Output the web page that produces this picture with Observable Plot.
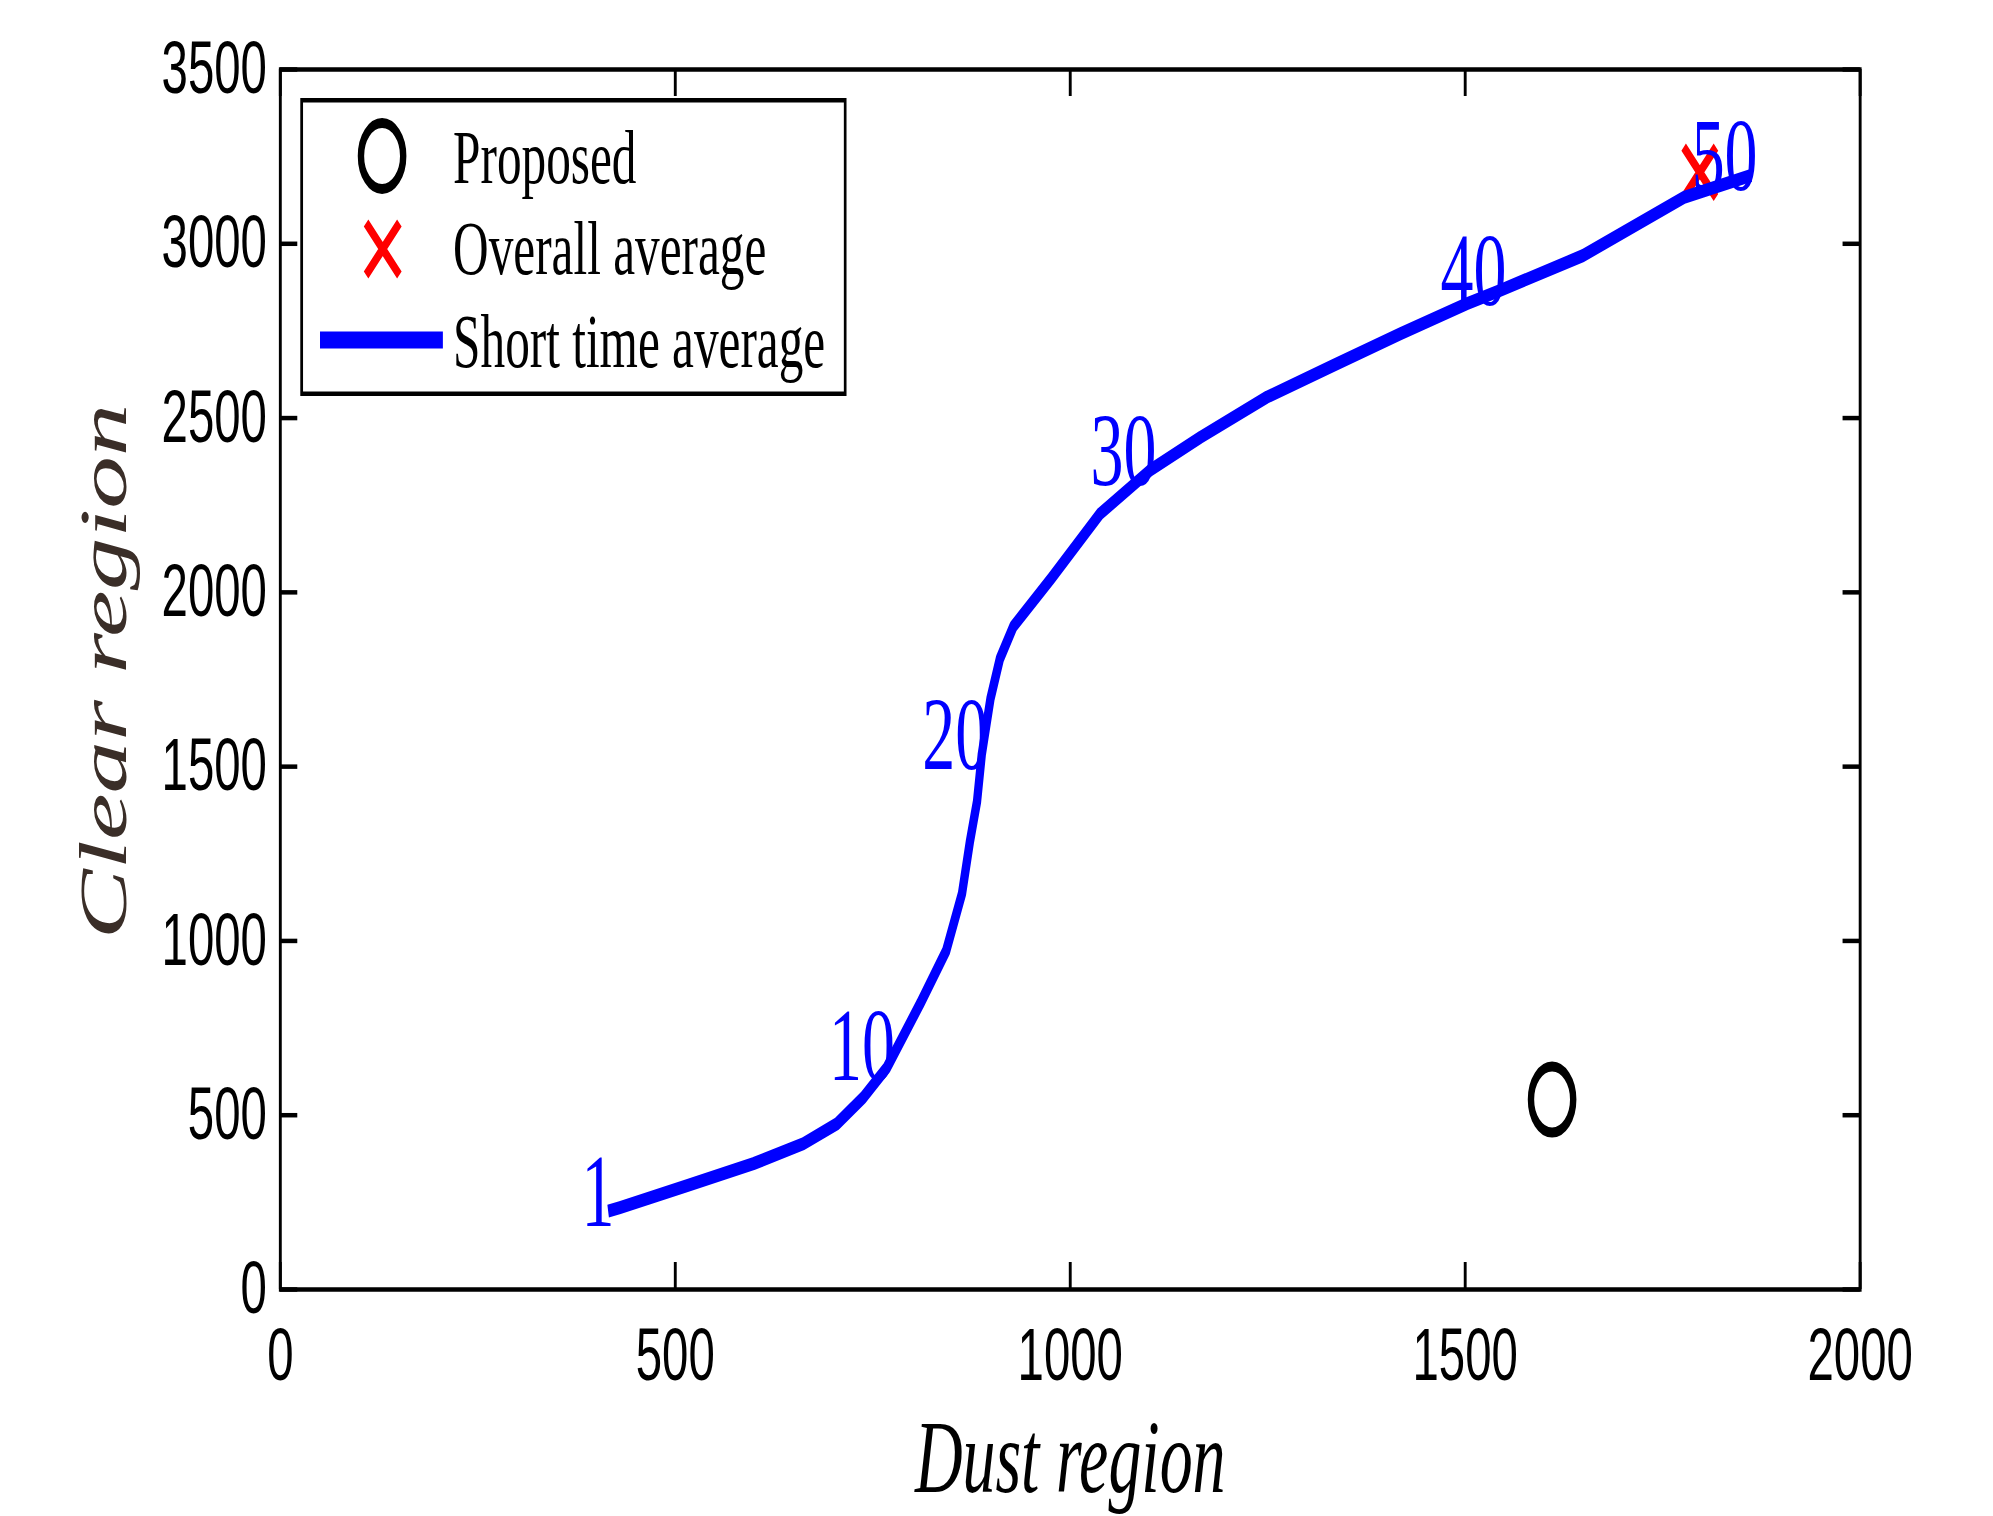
<!DOCTYPE html>
<html>
<head>
<meta charset="utf-8">
<script src="https://cdn.jsdelivr.net/npm/d3@7"></script>
<script src="https://cdn.jsdelivr.net/npm/@observablehq/plot@0.6"></script>
<style>
  html, body { margin: 0; padding: 0; background: #fff; overflow: hidden; }
  #wrap { position: relative; width: 3114px; height: 1516px; transform: scaleX(0.64); transform-origin: 0 0; }
  #legend { position: absolute; left: 469px; top: 98px; }
</style>
</head>
<body>
<div id="wrap"></div>
<script>
// ---- data ----
const dust  = [415, 430, 515, 599, 662, 705, 738, 768, 810, 843, 863, 873, 882, 888, 899, 911, 928, 976, 1038, 1101, 1165, 1249, 1333, 1418, 1502, 1544, 1649, 1777, 1862];
const clear = [225, 235, 298, 361, 418, 476, 551, 637, 820, 972, 1136, 1285, 1400, 1535, 1695, 1810, 1902, 2040, 2226, 2350, 2445, 2560, 2651, 2742, 2828, 2866, 2966, 3133, 3196];

const labelText  = ["1", "10", "20", "30", "40", "50"];
const labelDust  = [415, 770, 888, 1101, 1544, 1862];
const labelClear = [225, 645, 1535, 2350, 2866, 3196];

const proposedDust  = [1610];
const proposedClear = [545];
const overallDust   = [1797];
const overallClear  = [3205];

const xTicks = [0, 500, 1000, 1500, 2000];
const yTicks = [0, 500, 1000, 1500, 2000, 2500, 3000, 3500];
const xLabel = ["Dust region"];
const yLabel = ["Clear region"];
const legendLabels = ["Proposed", "Overall average", "Short time average"];

// ---- tables built from the arrays ----
const curve = dust.map((d, i) => ({x: d, y: clear[i]}));
const labels = labelText.map((t, i) => ({t, x: labelDust[i], y: labelClear[i]}));
const proposed = proposedDust.map((d, i) => ({x: d, y: proposedClear[i]}));
const overall = overallDust.map((d, i) => ({x: d, y: overallClear[i]}));

const W = 3114, H = 1516;
const mL = 437.5, mR = 208, mT = 69, mB = 227;
const fH = H - mT - mB, fW = W - mL - mR, tick = 27;
const serif = "'Liberation Serif', 'Times New Roman', serif";
const sans = "'Liberation Sans', Arial, sans-serif";
const fmt = d => String(d);

const chart = Plot.plot({
  width: W, height: H,
  marginLeft: mL, marginRight: mR, marginTop: mT, marginBottom: mB,
  style: {fontFamily: sans, fontSize: "74px", color: "black", background: "white", overflow: "visible"},
  x: {domain: [0, 2000], ticks: xTicks, tickFormat: fmt, tickSize: 0, tickPadding: 38, label: null},
  y: {domain: [0, 3500], ticks: yTicks, tickFormat: fmt, tickSize: 0, tickPadding: 21, label: null},
  marks: [
    Plot.tickX(xTicks, {x: d => d, insetTop: fH - tick, stroke: "black", strokeWidth: 4.5}),
    Plot.tickX(xTicks, {x: d => d, insetBottom: fH - tick, stroke: "black", strokeWidth: 4.5}),
    Plot.tickY(yTicks, {y: d => d, insetRight: fW - tick, stroke: "black", strokeWidth: 4.5}),
    Plot.tickY(yTicks, {y: d => d, insetLeft: fW - tick, stroke: "black", strokeWidth: 4.5}),
    Plot.dot(proposed, {x: "x", y: "y", r: 33, stroke: "black", strokeWidth: 10, fill: "none"}),
    Plot.dot(overall, {x: "x", y: "y", symbol: "times", r: 23, stroke: "red", strokeWidth: 10}),
    Plot.line(curve, {x: "x", y: "y", stroke: "blue", strokeWidth: 13, strokeLinejoin: "round", strokeLinecap: "butt"}),
    Plot.text(labels, {x: "x", y: "y", text: "t", textAnchor: "end", lineAnchor: "middle", dx: 10, dy: -18,
      fill: "blue", fontFamily: serif, fontSize: 103}),
    Plot.text(xLabel, {text: d => d, frameAnchor: "bottom", textAnchor: "middle", dy: 170, lineAnchor: "middle",
      fontFamily: serif, fontStyle: "italic", fontSize: 103, fill: "black"}),
    Plot.text(yLabel, {text: d => d, frameAnchor: "left", textAnchor: "middle", dx: -275, dy: -8, rotate: -90, lineAnchor: "middle",
      fontFamily: serif, fontStyle: "italic", fontSize: 105, fill: "#3a2e28"}),
    Plot.frame({stroke: "black", strokeWidth: 4.5})
  ]
});

const wrap = document.getElementById("wrap");
wrap.appendChild(chart);

// ---- legend (inside the axes, top-left) ----
const ns = "http://www.w3.org/2000/svg";
const lg = document.createElementNS(ns, "svg");
lg.setAttribute("id", "legend");
lg.setAttribute("width", 854);
lg.setAttribute("height", 298);
const baselines = [85, 176, 269];
lg.innerHTML = `
  <rect x="2.25" y="2.25" width="849.5" height="293.5" fill="white" stroke="black" stroke-width="4.5"/>
  <circle cx="128" cy="58" r="33" fill="none" stroke="black" stroke-width="10"/>
  <path d="M103,125 L155,177 M155,125 L103,177" stroke="red" stroke-width="10" fill="none"/>
  <line x1="31" x2="223" y1="242" y2="242" stroke="blue" stroke-width="17"/>
` + legendLabels.map((t, i) =>
  `<text x="239" y="${baselines[i]}" font-family="${serif.replace(/'/g, "&quot;")}" font-size="77" fill="black">${t}</text>`).join("");
wrap.appendChild(lg);
</script>
</body>
</html>
